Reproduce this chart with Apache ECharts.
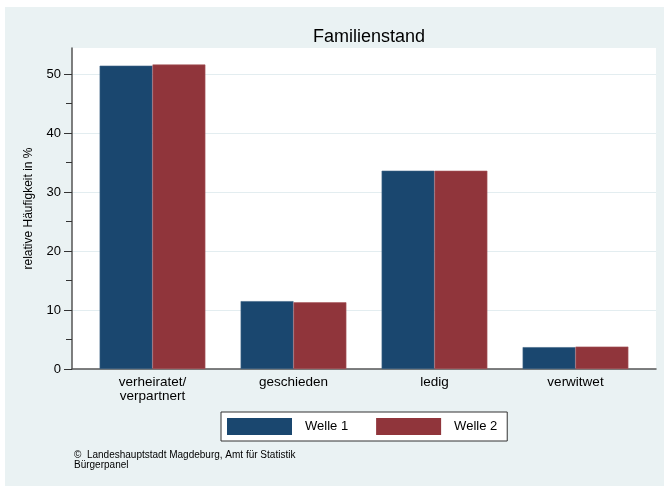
<!DOCTYPE html>
<html>
<head>
<meta charset="utf-8">
<title>Familienstand</title>
<script src="https://cdn.jsdelivr.net/npm/echarts@6/dist/echarts.min.js"></script>
<style>
  html, body { margin: 0; padding: 0; background: #fff; }
  #main { width: 664px; height: 486px; }
</style>
</head>
<body>
<div id="main"></div>
<script>
// Familienstand, Welle 1 vs. Welle 2 (relative Häufigkeit in %)
var kategorien = ["verheiratet/\nverpartnert", "geschieden", "ledig", "verwitwet"];
var welle1 = [51.4, 11.5, 33.6, 3.7];
var welle2 = [51.6, 11.3, 33.6, 3.8];
var yTicks = [0, 10, 20, 30, 40, 50];
var yMinorTicks = [5, 15, 25, 35, 45];
var yMax = 54.4;

var schrift = "Liberation Sans, Arial, Helvetica, sans-serif";

var chartDom = document.getElementById("main");
var myChart = echarts.init(chartDom, null, { renderer: "canvas" });

var option = {
  backgroundColor: "#ffffff",
  animation: false,
  textStyle: { fontFamily: schrift },
  graphic: [
    {
      type: "rect",
      z: -10,
      shape: { x: 5, y: 7, width: 659, height: 479 },
      style: { fill: "#EAF2F3" },
    },
    {
      type: "text",
      left: 74,
      top: 450,
      style: {
        text: "©  Landeshauptstadt Magdeburg, Amt für Statistik\nBürgerpanel",
        font: "10px " + schrift,
        fill: "#000",
        lineHeight: 10,
      },
    },
  ],
  title: {
    text: "Familienstand",
    left: 364,
    textAlign: "center",
    top: 23,
    textStyle: { fontSize: 18, fontWeight: "normal", color: "#000", fontFamily: schrift },
  },
  legend: {
    data: ["Welle 1", "Welle 2"],
    left: 221,
    top: 412,
    orient: "horizontal",
    icon: "rect",
    itemWidth: 65,
    itemHeight: 17,
    itemGap: 28,
    padding: [6, 10, 6, 6],
    backgroundColor: "#ffffff",
    borderColor: "#333",
    borderWidth: 1,
    borderRadius: 0,
    itemStyle: { borderWidth: 0 },
    textStyle: { fontSize: 13, color: "#000", padding: [0, 0, 0, 8], fontFamily: schrift },
  },
  grid: [
    // Plotbereich (weiss, Achsenlinien)
    { left: 72, right: 8, top: 48, bottom: 117, show: true, backgroundColor: "#fff", borderWidth: 0 },
    // Balken
    { left: 82, right: 18, top: 48, bottom: 117 },
  ],
  xAxis: [
    {
      gridIndex: 0,
      type: "value",
      min: 0,
      max: 1,
      axisLine: { show: true, lineStyle: { color: "#555", width: 1.5 } },
      axisTick: { show: false },
      axisLabel: { show: false },
      splitLine: { show: false },
    },
    {
      gridIndex: 1,
      type: "category",
      data: kategorien,
      axisLine: { show: false },
      axisTick: { show: false },
      axisLabel: { fontSize: 13.5, color: "#000", margin: 6, lineHeight: 14, fontFamily: schrift },
    },
  ],
  yAxis: [
    {
      gridIndex: 0,
      type: "value",
      min: 0,
      max: yMax,
      name: "relative Häufigkeit in %",
      nameLocation: "middle",
      nameGap: 37,
      nameTextStyle: { fontSize: 12, color: "#000", fontFamily: schrift },
      axisLine: { show: true, lineStyle: { color: "#555", width: 1.5 } },
      axisTick: { show: true, length: 8, customValues: yTicks, lineStyle: { color: "#333" } },
      axisLabel: { fontSize: 13, color: "#000", margin: 11, customValues: yTicks, fontFamily: schrift },
      splitLine: { show: true, lineStyle: { color: "#E3EDF0", width: 1.2 } },
    },
    {
      gridIndex: 1,
      type: "value",
      min: 0,
      max: yMax,
      show: false,
      splitLine: { show: false },
    },
    {
      // Zwischenstriche bei 5, 15, ...
      gridIndex: 0,
      type: "value",
      position: "left",
      min: 0,
      max: yMax,
      axisLine: { show: false },
      axisTick: { show: true, length: 6, customValues: yMinorTicks, lineStyle: { color: "#333" } },
      axisLabel: { show: false },
      splitLine: { show: false },
    },
  ],
  series: [
    {
      name: "Welle 1",
      type: "bar",
      xAxisIndex: 1,
      yAxisIndex: 1,
      data: welle1,
      barGap: "0%",
      barCategoryGap: "25%",
      itemStyle: { color: "#1A476F", borderColor: "#3E6384", borderWidth: 0.6 },
    },
    {
      name: "Welle 2",
      type: "bar",
      xAxisIndex: 1,
      yAxisIndex: 1,
      data: welle2,
      barGap: "0%",
      barCategoryGap: "25%",
      itemStyle: { color: "#90353B", borderColor: "#A7585D", borderWidth: 0.6 },
    },
  ],
};

option && myChart.setOption(option);
</script>
</body>
</html>
